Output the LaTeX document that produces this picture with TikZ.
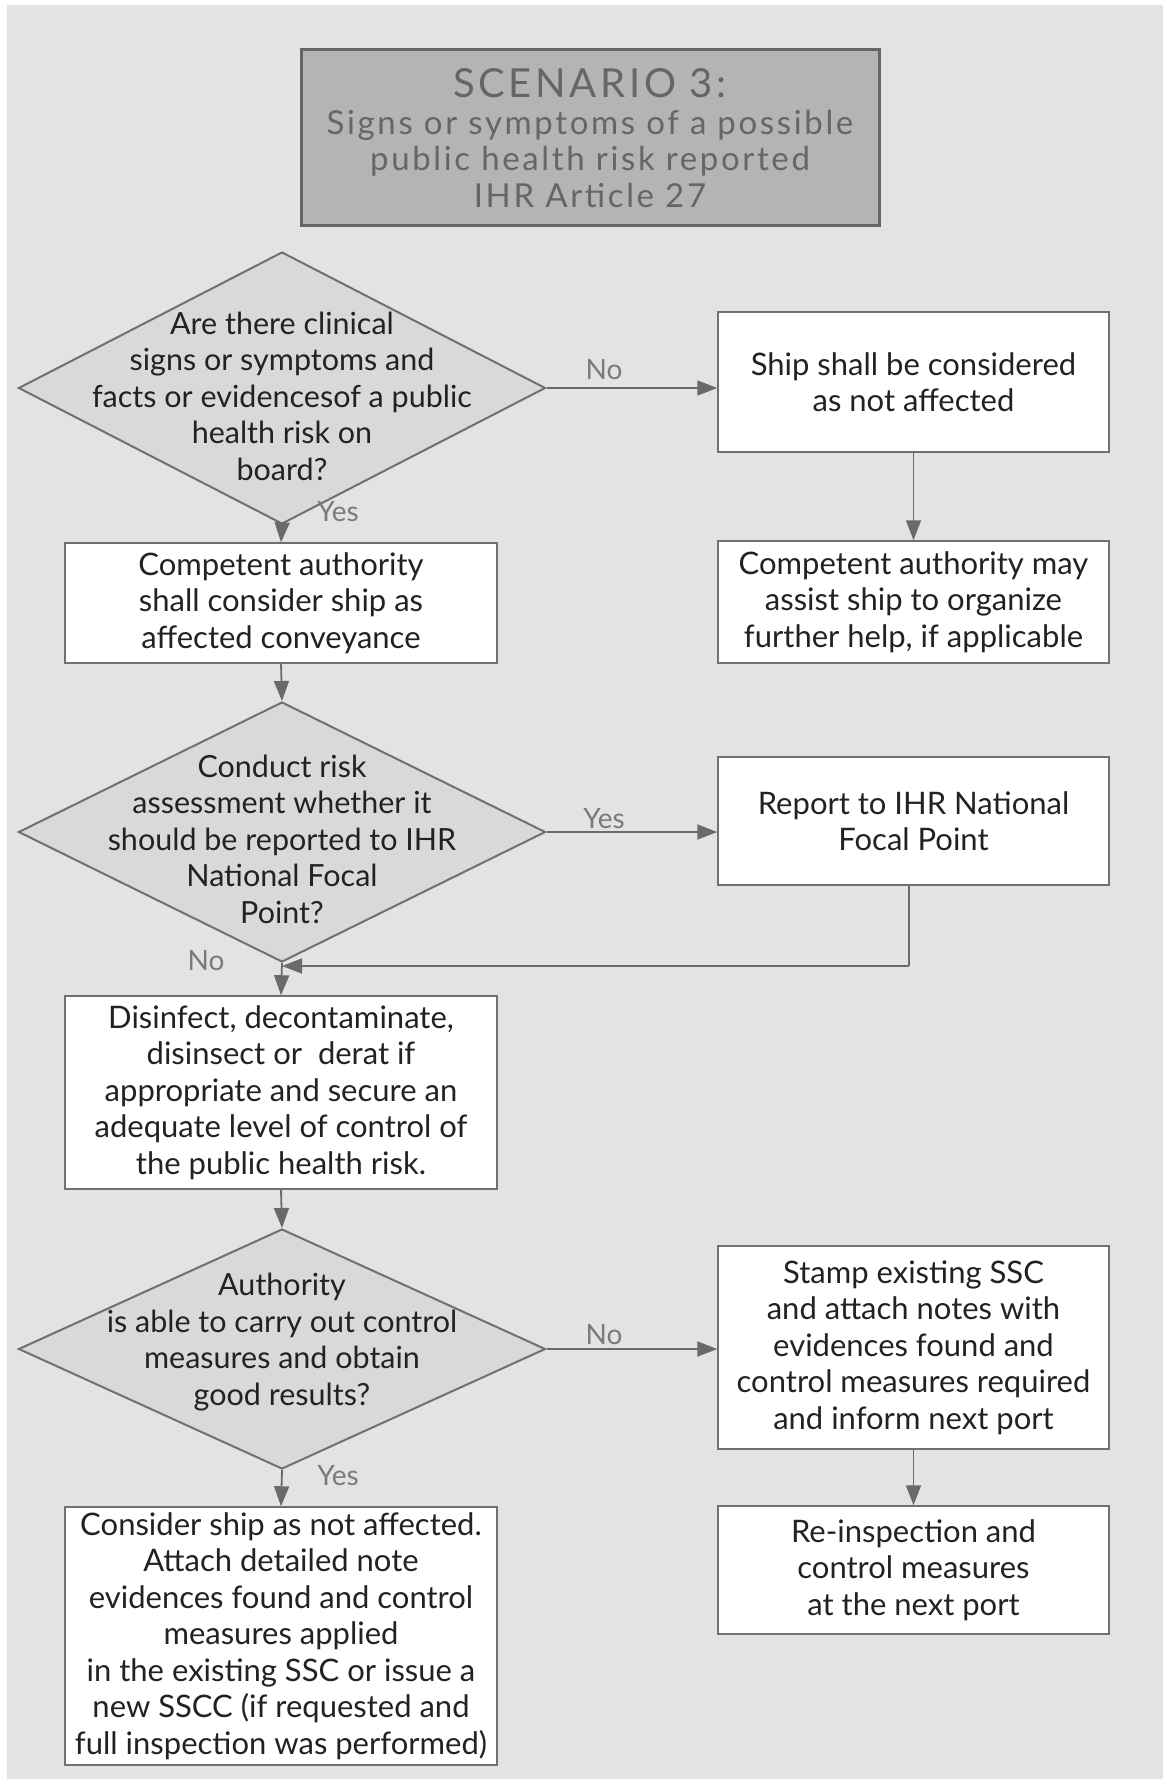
\documentclass[tikz,border=0pt]{standalone}
\usepackage{fontspec}
\setmainfont{Lato}
\usetikzlibrary{shapes.geometric,arrows.meta}
\definecolor{bgc}{HTML}{E3E3E3}
\definecolor{bordc}{HTML}{707070}
\definecolor{diac}{HTML}{D9D9D9}
\definecolor{titlec}{HTML}{B4B4B4}
\definecolor{titletxt}{HTML}{666666}
\definecolor{txtc}{HTML}{222222}
\definecolor{lblc}{HTML}{7A7A7A}
\definecolor{arrc}{HTML}{6A6A6A}
\begin{document}
\begin{tikzpicture}[x=1pt,y=-1pt,
  box/.style={draw=bordc, fill=white, line width=1.5pt, minimum width=391pt, inner sep=0pt, align=center, text=txtc, font=\fontsize{31}{36.5}\selectfont},
  lbox/.style={box, minimum width=432pt},
  dia/.style={diamond, draw=bordc, fill=diac, line width=2pt, inner sep=0pt, minimum width=527pt},
  diatext/.style={align=center, text=txtc, inner sep=0pt, font=\fontsize{30.5}{36.5}\selectfont},
  lbl/.style={text=lblc, inner sep=0pt, font=\fontsize{28}{30}\selectfont},
  conn/.style={draw=arrc, line width=1.8pt, -{Triangle[length=20pt,width=15pt]}},
  plain/.style={draw=arrc, line width=1.8pt}
]
\useasboundingbox (0,0) rectangle (1163,1779);
\fill[bgc] (7,5) rectangle (1163,1779);

% title
\node[draw=titletxt, fill=titlec, line width=3pt, minimum width=578pt, minimum height=176pt, align=center, text=titletxt, inner sep=0pt, font=\fontsize{33}{36.5}\selectfont\addfontfeature{LetterSpace=8}] (title) at (590,138)
  {{\fontsize{40}{40}\selectfont\addfontfeature{LetterSpace=9}SCENARIO 3:}\\Signs or symptoms of a possible\\public health risk reported\\IHR Article 27};

% row 1
\node[dia, minimum height=272pt] (d1) at (282,388) {};
\node[diatext] (d1t) at (282,396) {Are there clinical\\signs or symptoms and\\facts or evidencesof a public\\health risk on\\board?};
\node[box, minimum height=140pt] (notaff) at (913.5,382) {Ship shall be considered\\as not affected};
\node[box, minimum height=122pt] (may) at (913.5,602) {Competent authority may\\assist ship to organize\\further help, if applicable};
\node[lbox, minimum height=120pt] (shall) at (281,603) {Competent authority\\shall consider ship as\\affected conveyance};

% row 2
\node[dia, minimum height=260pt] (d2) at (282,832) {};
\node[diatext] (d2t) at (282,839) {Conduct risk\\assessment whether it\\should be reported to IHR\\National Focal\\Point?};
\node[box, minimum height=128pt] (report) at (913.5,821) {Report to IHR National\\Focal Point};
\node[lbox, minimum height=193pt] (dis) at (281,1092.5) {Disinfect, decontaminate,\\disinsect or\ \ derat if\\appropriate and secure an\\adequate level of control of\\the public health risk.};

% row 3
\node[dia, minimum height=240pt] (d3) at (282,1349) {};
\node[diatext] (d3t) at (282,1342) {Authority\\is able to carry out control\\measures and obtain\\good results?};
\node[box, minimum height=203pt] (stamp) at (913.5,1347.5) {Stamp existing SSC\\and attach notes with\\evidences found and\\control measures required\\and inform next port};
\node[box, minimum height=128pt] (re) at (913.5,1570) {Re-inspection and\\control measures\\at the next port};
\node[lbox, minimum height=258pt] (cons) at (281,1636) {Consider ship as not affected.\\Attach detailed note\\evidences found and control\\measures applied\\in the existing SSC or issue a\\new SSCC (if requested and\\full inspection was performed)};

% connectors
\draw[conn] (d1.east) -- (d1.east -| notaff.west);
\draw[conn] (notaff.south) -- (may.north);
\draw[conn] (d1.south) -- (shall.north);
\draw[conn] (shall.south) -- (d2.north);
\draw[conn] (d2.east) -- (d2.east -| report.west);
\draw[conn] (d2.south) -- (dis.north);
\coordinate (retc) at (909,966);
\coordinate (retj) at (d2.south |- retc);
\draw[plain] (report.south -| retc) -- (retc);
\draw[conn] (retc) -- (retj);
\draw[conn] (dis.south) -- (d3.north);
\draw[conn] (d3.east) -- (d3.east -| stamp.west);
\draw[conn] (d3.south) -- (cons.north);
\draw[conn] (stamp.south) -- (re.north);

% labels
\node[lbl] (l1) at (604,370) {No};
\node[lbl] (l2) at (338,512) {Yes};
\node[lbl] (l3) at (604,819) {Yes};
\node[lbl] (l4) at (206,961) {No};
\node[lbl] (l5) at (604,1335) {No};
\node[lbl] (l6) at (338,1476) {Yes};
\end{tikzpicture}
\end{document}
